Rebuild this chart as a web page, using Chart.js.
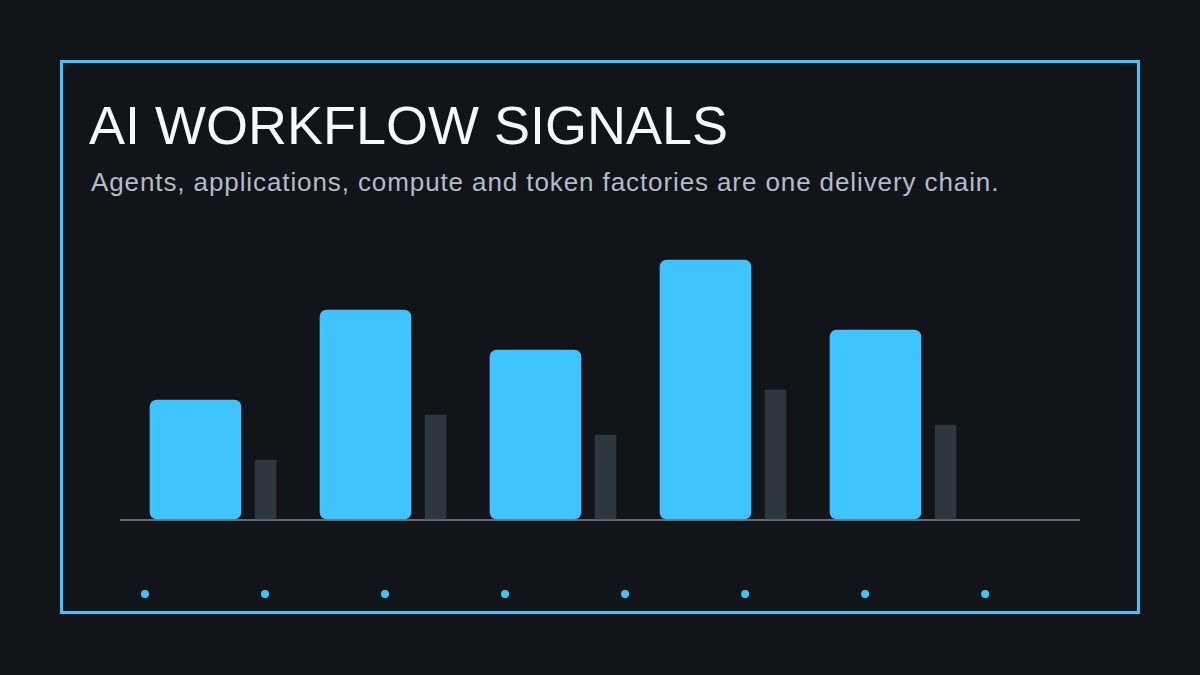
<!DOCTYPE html>
<html>
<head>
<meta charset="utf-8">
<script src="https://cdn.jsdelivr.net/npm/chart.js@4"></script>
<style>
  html, body { margin: 0; padding: 0; background: #111418; }
  body { width: 1200px; height: 675px; position: relative; overflow: hidden; font-family: 'Liberation Sans', Arial, sans-serif; }
  #frame { position: absolute; left: 60px; top: 60px; width: 1074px; height: 548px; border: 3px solid #40c4ff; }
  #title { position: absolute; left: 89px; top: 90px; font-size: 54px; line-height: 70px; color: #f5f8fc; white-space: nowrap; }
  #subtitle { position: absolute; left: 91px; top: 165px; font-size: 26px; line-height: 34px; letter-spacing: 0.9px; color: #b3bcc8; white-space: nowrap; }
  #wrap { position: absolute; left: 120px; top: 220px; width: 960px; height: 384px; }
</style>
</head>
<body>
<div id="frame"></div>
<div id="title">AI WORKFLOW SIGNALS</div>
<div id="subtitle">Agents, applications, compute and token factories are one delivery chain.</div>
<div id="wrap"><canvas id="chart" width="960" height="384"></canvas></div>
<script>
// values (no axis labels, so units are relative)
const groups = ['1', '2', '3', '4', '5']
const signal = [12, 21, 17, 26, 19]
const baseline = [6, 10.5, 8.5, 13, 9.5]
const markers = [0, 1, 2, 3, 4, 5, 6, 7]
const markerLevel = -7.4

const CYAN = '#40c4ff'
const SLATE = '#2e3640'

const ctx = document.getElementById('chart').getContext('2d')
const chart = new Chart(ctx, {
    type: 'bar',
    data: {
        datasets: [
            {
                label: 'signal',
                data: signal.map((v, i) => ({ x: i, y: v })),
                backgroundColor: CYAN,
                barThickness: 91,
                borderRadius: 7,
                borderSkipped: false,
                grouped: false,
            },
            {
                label: 'baseline',
                data: baseline.map((v, i) => ({ x: i + 0.412, y: v })),
                backgroundColor: SLATE,
                barThickness: 21,
                borderRadius: 0,
                grouped: false,
            },
            {
                type: 'scatter',
                label: 'markers',
                xAxisID: 'x2',
                data: markers.map(m => ({ x: m, y: markerLevel })),
                backgroundColor: CYAN,
                borderWidth: 0,
                pointRadius: 4,
                clip: false,
            }
        ]
    },
    options: {
        responsive: false,
        animation: false,
        layout: { padding: 0, autoPadding: false },
        plugins: {
            legend: { display: false },
            title: { display: false },
            tooltip: { enabled: false },
        },
        scales: {
            x: {
                type: 'linear',
                display: false,
                offset: false,
                min: -0.444,
                max: 5.203,
            },
            x2: {
                type: 'linear',
                display: false,
                offset: false,
                min: -0.208,
                max: 7.79,
            },
            y: {
                min: -8.4,
                max: 30,
                afterBuildTicks: axis => { axis.ticks = [{ value: 0 }] },
                ticks: { display: false },
                border: { display: false },
                grid: {
                    color: '#646c78',
                    lineWidth: 2,
                    drawTicks: false,
                },
            }
        }
    }
})
</script>
</body>
</html>
